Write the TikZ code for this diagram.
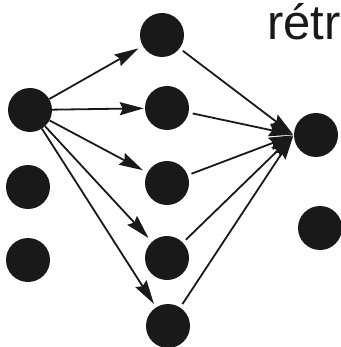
\documentclass[tikz,border=0pt]{standalone}
\usepackage{fontspec}
\setmainfont{Liberation Sans}
\usetikzlibrary{arrows.meta}
\begin{document}
\begin{tikzpicture}[x=1pt,y=-1pt,
  neuron/.style={circle,fill=black!90,draw=none,minimum size=44pt,inner sep=0pt},
  link/.style={line width=1.8pt,draw=black!90,-{Stealth[length=24pt,width=13pt,inset=3pt]}}]
  \useasboundingbox (0,0) rectangle (340,347);
  % input layer
  \node[neuron] (L1) at (30,110) {};
  \node[neuron] (L2) at (28,187) {};
  \node[neuron] (L3) at (28,260) {};
  % hidden layer
  \node[neuron] (M1) at (162,35) {};
  \node[neuron] (M2) at (167,108) {};
  \node[neuron] (M3) at (167,183) {};
  \node[neuron] (M4) at (167,258) {};
  \node[neuron] (M5) at (168,326) {};
  % output layer
  \node[neuron] (R1) at (316,135) {};
  \node[neuron] (R2) at (320,228) {};
  % label
  \node[anchor=base west,inner sep=0pt,font=\fontsize{49pt}{56pt}\selectfont,text=black!90] (lbl) at (267,40) {rétr};
  % forward connections from the first input
  \draw[link,shorten >=5pt] (L1) -- (M1);
  \draw[link,shorten >=1pt] (L1) -- (M2);
  \draw[link,shorten >=5pt] (L1) -- (M3);
  \draw[link,shorten >=5pt] (L1) -- (M4);
  \draw[link,shorten >=4pt] (L1) -- (M5);
  % connections into the first output
  \foreach \m in {M1,M2,M3,M4,M5}
    \draw[link,shorten <=4pt,shorten >=1pt] (\m) -- (R1.west);
\end{tikzpicture}
\end{document}
